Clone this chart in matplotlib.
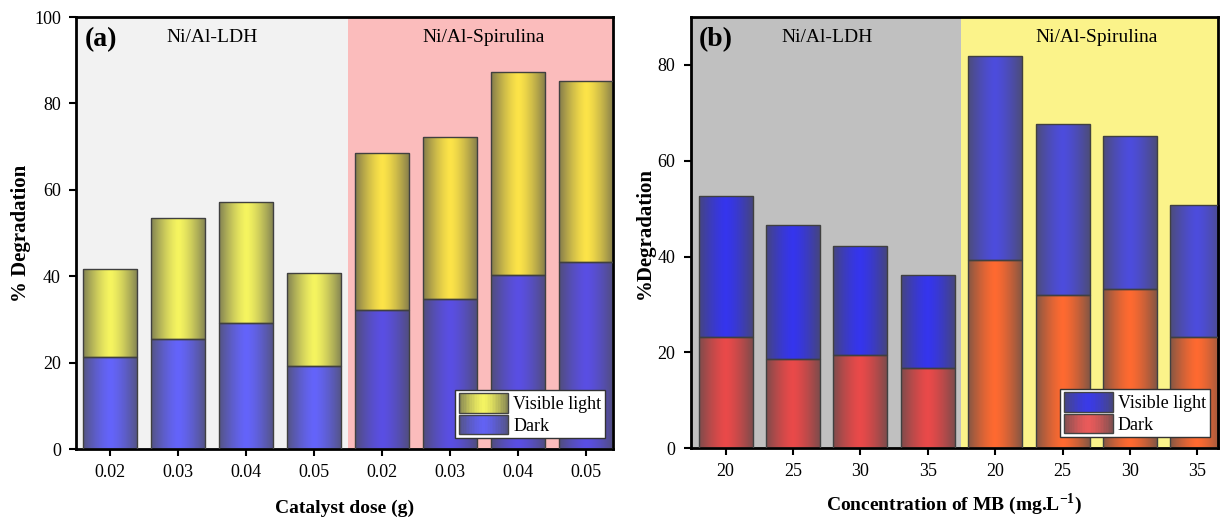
import numpy as np
import matplotlib
matplotlib.use("Agg")
import matplotlib.pyplot as plt
from matplotlib.patches import Rectangle, Patch
from matplotlib.legend_handler import HandlerBase
from matplotlib.colors import to_rgb

plt.rcParams['font.family'] = ['Liberation Serif', 'DejaVu Serif']
plt.rcParams['mathtext.fontset'] = 'custom'
plt.rcParams['mathtext.rm'] = 'Liberation Serif'
plt.rcParams['mathtext.bf'] = 'Liberation Serif:bold'

# data
dose_labels = ["0.02", "0.03", "0.04", "0.05", "0.02", "0.03", "0.04", "0.05"]
dose_dark = [21.3, 25.4, 29.3, 19.3, 32.3, 34.8, 40.2, 43.2]
dose_total = [41.6, 53.5, 57.2, 40.8, 68.5, 72.2, 87.2, 85.3]

conc_labels = ["20", "25", "30", "35", "20", "25", "30", "35"]
conc_dark = [23.2, 18.7, 19.4, 16.8, 39.3, 32.0, 33.3, 23.2]
conc_total = [52.6, 46.5, 42.3, 36.2, 81.8, 67.6, 65.2, 50.8]

groups = ["Ni/Al-LDH", "Ni/Al-Spirulina"]


def shade(color, t):
    # t in [-1, 1], dark at edges, full colour in the middle
    c = np.array(to_rgb(color))
    w = abs(t) ** 1.4 * 0.68
    return c * (1 - w) + np.array([0.3, 0.3, 0.3]) * w


def grad_img(color, n=64):
    ts = np.linspace(-1, 1, n)
    return np.array([[shade(color, t) for t in ts]])


class GradHandler(HandlerBase):
    def __init__(self, color):
        super().__init__()
        self.color = color

    def create_artists(self, legend, orig_handle, xdescent, ydescent,
                       width, height, fontsize, trans):
        n = 30
        arts = []
        for i in range(n):
            t = (i + 0.5) / n * 2 - 1
            arts.append(Rectangle((-xdescent + i * width / n, -ydescent), width / n + 0.3,
                                  height, facecolor=shade(self.color, t),
                                  edgecolor='none', transform=trans))
        arts.append(Rectangle((-xdescent, -ydescent), width, height, fill=False,
                              edgecolor='#444444', lw=1.0, transform=trans))
        return arts


def grad_bars(ax, x, bottoms, heights, colors):
    bars = ax.bar(x, heights, 0.8, bottom=bottoms, facecolor='none',
                  edgecolor='#404040', linewidth=1.0, zorder=3)
    for b, c in zip(bars, colors):
        x0, y0 = b.get_x(), b.get_y()
        im = ax.imshow(grad_img(c), extent=[x0, x0 + b.get_width(), y0, y0 + b.get_height()],
                       aspect='auto', zorder=2, interpolation='bilinear')
        im.set_clip_path(b)
    return bars


def panel(ax, labels, dark, total, ylim, yticks, bg, dark_cols, vis_cols,
          leg_cols, tag, xlabel, ylabel, xlim, xpad):
    x = np.arange(len(labels))
    dark = np.array(dark)
    vis = np.array(total) - dark
    ax.axvspan(xlim[0], 3.5, color=bg[0], zorder=0, lw=0)
    ax.axvspan(3.5, xlim[1], color=bg[1], zorder=0, lw=0)
    dc = [dark_cols[0]] * 4 + [dark_cols[1]] * 4
    vc = [vis_cols[0]] * 4 + [vis_cols[1]] * 4
    grad_bars(ax, x, np.zeros(len(x)), dark, dc)
    grad_bars(ax, x, dark, vis, vc)
    ax.set_xlim(*xlim)
    ax.set_ylim(*ylim)
    ax.set_yticks(yticks)
    ax.set_xticks(x)
    ax.set_xticklabels(labels)
    ax.tick_params(direction='out', length=5, width=1.5, labelsize=13, pad=6)
    for s in ax.spines.values():
        s.set_linewidth(2)
    ax.set_xlabel(xlabel, fontsize=14, fontweight='bold', labelpad=xpad)
    ax.set_ylabel(ylabel, fontsize=15, fontweight='bold', labelpad=2)
    ax.text(1.5, 0.953, groups[0], transform=ax.get_xaxis_transform(),
            ha='center', va='center', fontsize=14)
    ax.text(5.5, 0.953, groups[1], transform=ax.get_xaxis_transform(),
            ha='center', va='center', fontsize=14)
    ax.text(0.015, 0.948, tag, transform=ax.transAxes, ha='left', va='center',
            fontsize=20, fontweight='bold')
    h1 = Patch(label="Visible light")
    h2 = Patch(label="Dark")
    ax.legend(handles=[h1, h2], loc='lower right', bbox_to_anchor=(0.985, 0.025),
              handler_map={h1: GradHandler(leg_cols[0]), h2: GradHandler(leg_cols[1])},
              fontsize=13, frameon=True, fancybox=False, edgecolor='#333333',
              framealpha=1, handlelength=2.7, handleheight=1.3, labelspacing=0.08,
              handletextpad=0.3, borderpad=0.2, borderaxespad=0)


fig = plt.figure(figsize=(12.2, 5.18), dpi=100)
ax1 = fig.add_axes([0.0625, 0.133, 0.440, 0.834])
ax2 = fig.add_axes([0.566, 0.135, 0.432, 0.832])

panel(ax1, dose_labels, dose_dark, dose_total, (0, 100), [0, 20, 40, 60, 80, 100],
      ('#f2f2f2', '#fbbcbc'), ('#6464fb', '#5a4fe4'), ('#f6f560', '#fde448'),
      ('#f4f462', '#6262f4'), '(a)', 'Catalyst dose (g)', '% Degradation', (-0.5, 7.4), 13)

panel(ax2, conc_labels, conc_dark, conc_total, (0, 90), [0, 20, 40, 60, 80],
      ('#c0c0c0', '#fbf38a'), ('#ea4949', '#ff6a30'), ('#3535ee', '#4c4cdd'),
      ('#3a3ae8', '#ea5a5a'), '(b)', r'Concentration of MB (mg.L$^{\mathbf{-1}}$)',
      '%Degradation', (-0.52, 7.3), 8)

fig.savefig("out.png", dpi=100)
